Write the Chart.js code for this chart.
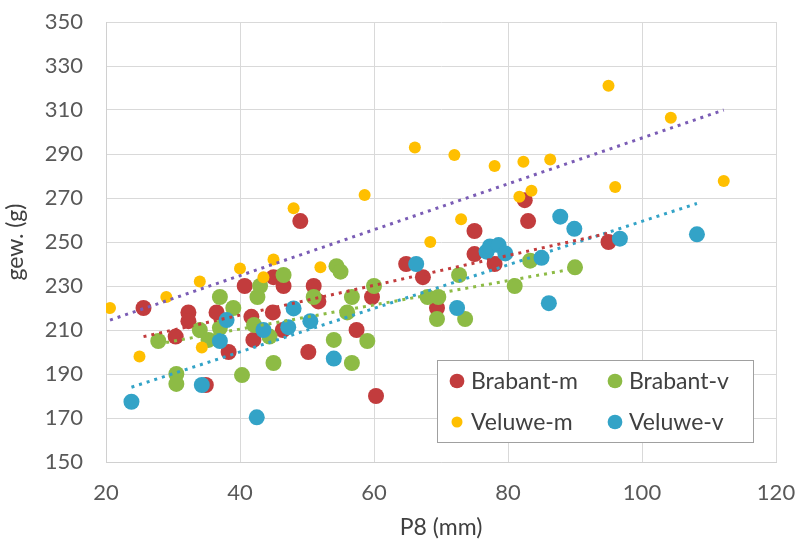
<!DOCTYPE html>
<html>
<head>
<meta charset="utf-8">
<script src="https://cdn.jsdelivr.net/npm/chart.js@4.4.1/dist/chart.umd.min.js"></script>
<style>
  html, body { margin: 0; padding: 0; background: #fff; }
  canvas { display: block; }
</style>
</head>
<body>
<canvas id="chart" width="800" height="547"></canvas>
<script>
// DATA
const seriesNames = ["Brabant-m", "Brabant-v", "Veluwe-m", "Veluwe-v"];

const brabantM = [
    [25.6, 220], [30.4, 207], [32.3, 218], [32.3, 214], [36.5, 218], [38.3, 200],
    [34.9, 185], [40.7, 230], [41.7, 216], [42, 205.5], [45, 234], [46.5, 230],
    [44.9, 218], [46.4, 210], [51, 230], [51.7, 223], [50.2, 200], [49, 259.5],
    [64.8, 240], [67.3, 234], [59.7, 225], [57.4, 210], [60.3, 180], [69.4, 220],
    [75, 244.5], [78, 240], [75, 255], [83, 259.5], [82.5, 269], [95, 250],
];

const brabantV = [
    [27.8, 205], [30.5, 190], [30.5, 185.5], [34, 210], [35.3, 205.5], [37, 225],
    [39, 220], [37, 211], [43, 230], [42.6, 225], [42.1, 212.3], [44.4, 207],
    [40.3, 189.5], [45, 195], [46.5, 235], [51, 225], [54, 205.5], [54.4, 239],
    [55, 236.5], [60, 230], [56.7, 225], [56, 218], [59, 205], [56.7, 195],
    [68, 225], [69.6, 225], [69.4, 215], [73.6, 215], [72.7, 235], [81, 230],
    [83.3, 241.5], [90, 238.5],
];

const veluweM = [
    [20.6, 220], [25, 198], [29, 225], [34, 232], [34.3, 202], [40, 238],
    [43.5, 234], [45, 242], [52, 238.5], [48, 265.3], [58.6, 271.4], [66.1, 293],
    [72, 289.5], [78, 284.5], [82.3, 286.5], [86.3, 287.5], [83.5, 273.3], [81.7, 270.6],
    [73, 260.3], [68.4, 250], [95, 321], [104.3, 306.5], [96, 275], [112.2, 277.7],
];

const veluweV = [
    [23.8, 177.4], [34.3, 185], [42.5, 170.3], [37, 205], [38, 214.5], [43.5, 210],
    [47.2, 211.3], [48, 219.8], [50.5, 214], [54, 197], [66.3, 240], [72.4, 220],
    [76.8, 245.6], [77.3, 248], [78.6, 248.6], [79.6, 244.8], [85, 242.8], [86.1, 222.2],
    [87.8, 261.5], [89.9, 256], [96.7, 251.5], [108.2, 253.5],
];

// trendline ends
const trendBrabantM = [[25.6, 207], [95, 254]];
const trendBrabantV = [[27.8, 203.7], [90, 237.9]];
const trendVeluweM = [[20.6, 214.5], [112.2, 310]];
const trendVeluweV = [[23.8, 184], [108.2, 267.5]];

const xTicks = [20, 40, 60, 80, 100, 120];
const yTicks = [150, 170, 190, 210, 230, 250, 270, 290, 310, 330, 350];

// STYLE
const RED = "#c23c3d";
const GREEN = "#8dbb45";
const YELLOW = "#ffbf00";
const BLUE = "#33a3c7";
const PURPLE = "#7a5cb5";
const FONT = "Lato, 'Open Sans', sans-serif";

const toXY = (arr) => arr.map(([x, y]) => ({ x, y }));

const pointSet = (label, data, color, radius, order) => ({
    label,
    data: toXY(data),
    backgroundColor: color,
    borderColor: color,
    borderWidth: 0,
    pointRadius: radius,
    pointHoverRadius: radius,
    order,
    legend: true,
});

const trendSet = (data, color) => ({
    type: "line",
    data: toXY(data),
    borderColor: color,
    borderWidth: 3,
    borderDash: [3, 5],
    borderCapStyle: "butt",
    pointRadius: 0,
    fill: false,
    order: 1,
    legend: false,
});

// legend box drawn inside the plot, bottom right
const boxLegend = {
    id: "boxLegend",
    afterDraw(chart) {
        const ctx = chart.ctx;
        const area = chart.chartArea;
        const left = area.right - 339;
        const top = area.bottom - 102;
        const w = 316;
        const h = 82;
        ctx.save();
        ctx.fillStyle = "#fff";
        ctx.strokeStyle = "#a0a0a0";
        ctx.lineWidth = 1;
        ctx.fillRect(left + 0.5, top + 0.5, w, h);
        ctx.strokeRect(left + 0.5, top + 0.5, w, h);
        ctx.font = "23px " + FONT;
        ctx.textBaseline = "middle";
        ctx.fillStyle = "#404040";
        const items = chart.data.datasets.filter((d) => d.legend);
        items.forEach((d, i) => {
            const col = i % 2;
            const row = Math.floor(i / 2);
            const cx = left + 20 + col * 158;
            const cy = top + 21 + row * 41;
            ctx.beginPath();
            ctx.fillStyle = d.backgroundColor;
            ctx.arc(cx, cy, d.pointRadius * 0.92, 0, Math.PI * 2);
            ctx.fill();
            ctx.fillStyle = "#404040";
            ctx.fillText(d.label, cx + 14, cy + 1);
        });
        ctx.restore();
    },
};

const ctx = document.getElementById("chart");

const chart = new Chart(ctx, {
    type: "scatter",
    data: {
        datasets: [
            pointSet(seriesNames[0], brabantM, RED, 8, 8),
            pointSet(seriesNames[1], brabantV, GREEN, 8, 7),
            pointSet(seriesNames[2], veluweM, YELLOW, 6, 6),
            pointSet(seriesNames[3], veluweV, BLUE, 8, 5),
            trendSet(trendBrabantM, RED),
            trendSet(trendBrabantV, GREEN),
            trendSet(trendVeluweM, PURPLE),
            trendSet(trendVeluweV, BLUE),
        ],
    },
    options: {
        responsive: false,
        animation: false,
        layout: {
            autoPadding: false,
            padding: { top: 22, right: 24, left: 0, bottom: 0 },
        },
        plugins: {
            legend: { display: false },
            tooltip: { enabled: false },
        },
        scales: {
            x: {
                type: "linear",
                min: xTicks[0],
                max: xTicks[xTicks.length - 1],
                afterBuildTicks: (s) => { s.ticks = xTicks.map((v) => ({ value: v })); },
                afterFit: (s) => {
                    s.height = 85;
                    s.paddingLeft = 0;
                    s.paddingRight = 0;
                },
                grid: { color: "#d9d9d9", drawTicks: false },
                border: { color: "#d0d0d0" },
                ticks: {
                    padding: 18,
                    color: "#595959",
                    font: { family: FONT, size: 22 },
                },
                title: {
                    display: true,
                    text: "P8 (mm)",
                    color: "#404040",
                    font: { family: FONT, size: 23 },
                    padding: { top: 0, bottom: 6 },
                },
            },
            y: {
                type: "linear",
                min: yTicks[0],
                max: yTicks[yTicks.length - 1],
                afterBuildTicks: (s) => { s.ticks = yTicks.map((v) => ({ value: v })); },
                afterFit: (s) => {
                    s.width = 106;
                    s.paddingTop = 0;
                    s.paddingBottom = 0;
                },
                grid: { color: "#d9d9d9", drawTicks: false },
                border: { color: "#d0d0d0" },
                ticks: {
                    padding: 23,
                    color: "#595959",
                    font: { family: FONT, size: 22 },
                },
                title: {
                    display: true,
                    text: "gew. (g)",
                    color: "#404040",
                    font: { family: FONT, size: 23 },
                    padding: { top: 2, bottom: 0 },
                },
            },
        },
    },
    plugins: [boxLegend],
});
</script>
</body>
</html>
